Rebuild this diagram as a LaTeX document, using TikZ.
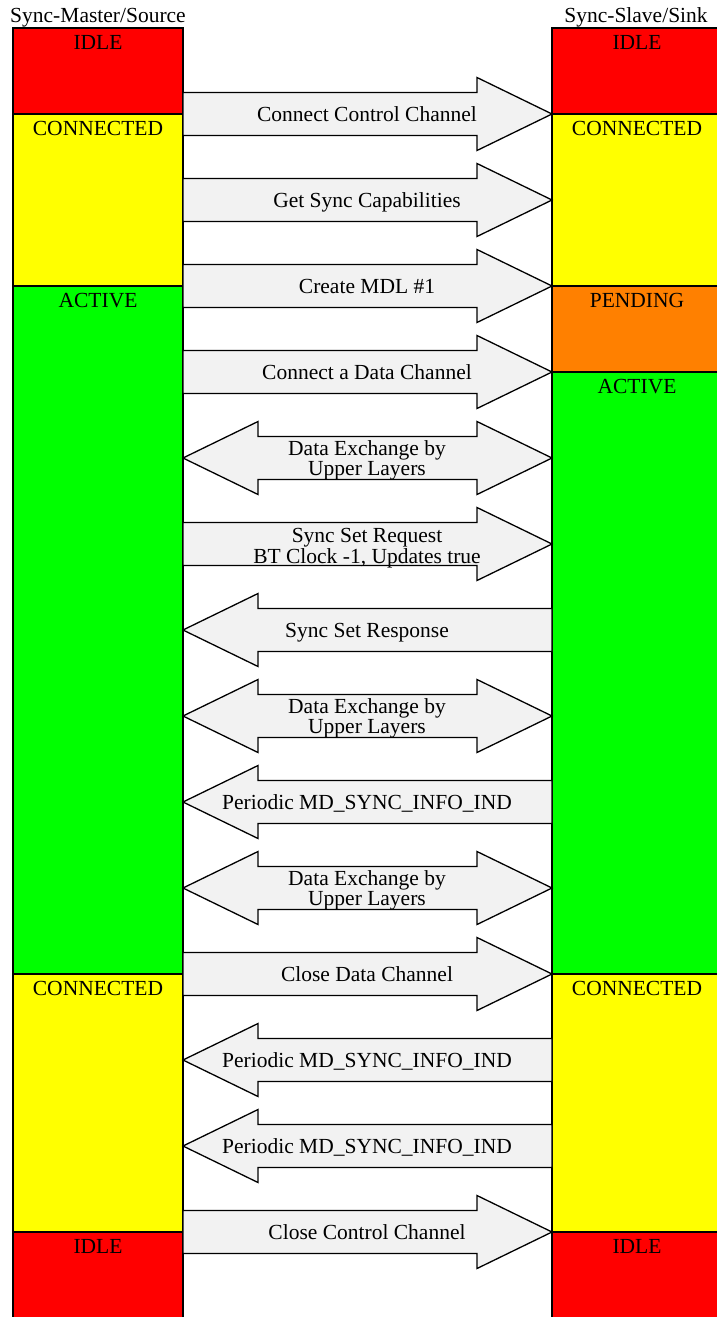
\documentclass[tikz,border=0pt]{standalone}
\usepackage{fontspec}
\setmainfont{Liberation Serif}
\begin{document}
\definecolor{idlered}{HTML}{FF0000}
\definecolor{connyellow}{HTML}{FFFF00}
\definecolor{activegreen}{HTML}{00FF00}
\definecolor{pendorange}{HTML}{FF8000}
\definecolor{arrowgray}{HTML}{F2F2F2}
\tikzset{
  statebox/.style={draw=black, line width=1.3pt, inner sep=0pt, outer sep=0pt,
    minimum width=170pt, anchor=north west},
  statelabel/.style={anchor=base, inner sep=0pt, font=\fontsize{21.5}{19}\selectfont},
  blockarrow/.style={draw=black, fill=arrowgray, line width=1.3pt, line join=miter},
  arrowtext/.style={anchor=base, inner sep=0pt, align=center,
    font=\fontsize{21.5}{18.5}\selectfont},
  header/.style={anchor=base, inner sep=0pt, font=\fontsize{21.5}{19}\selectfont}
}
% state block: name, left x, top y, height, colour, label
\newcommand\statebox[6]{%
  \node[statebox, fill=#5, minimum height=#4pt] (#1) at (#2,#3) {};
  \node[statelabel] (#1-label) at ([yshift=-21pt]#1.north) {#6};}
% block arrows between the two lifelines:
% [baseline offset of the last text line], name, centre y, text
\newcommand\arrowR[4][7]{%
  \draw[blockarrow] (183,#3-21.5) -- (477,#3-21.5) -- (477,#3-36.5) -- (552,#3)
    -- (477,#3+36.5) -- (477,#3+21.5) -- (183,#3+21.5) -- cycle;
  \node[arrowtext] (#2) at (367,#3+#1) {#4};}
\newcommand\arrowL[4][7]{%
  \draw[blockarrow] (552,#3-21.5) -- (258,#3-21.5) -- (258,#3-36.5) -- (183,#3)
    -- (258,#3+36.5) -- (258,#3+21.5) -- (552,#3+21.5) -- cycle;
  \node[arrowtext] (#2) at (367,#3+#1) {#4};}
\newcommand\arrowLR[4][17]{%
  \draw[blockarrow] (183,#3) -- (258,#3-36.5) -- (258,#3-21.5) -- (477,#3-21.5)
    -- (477,#3-36.5) -- (552,#3) -- (477,#3+36.5) -- (477,#3+21.5)
    -- (258,#3+21.5) -- (258,#3+36.5) -- cycle;
  \node[arrowtext] (#2) at (367,#3+#1) {#4};}
\begin{tikzpicture}[x=1pt, y=-1pt]
\useasboundingbox (0,0) rectangle (717,1317);
\clip (0,0) rectangle (717,1317);

% headers
\node[header] (master) at (98,23) {Sync-Master/Source};
\node[header] (slave) at (636,23) {Sync-Slave/Sink};

% source lifeline
\statebox{lidle}{13}{28}{86}{idlered}{IDLE}
\statebox{lconn}{13}{114}{172}{connyellow}{CONNECTED}
\statebox{lact}{13}{286}{688}{activegreen}{ACTIVE}
\statebox{lconnb}{13}{974}{258}{connyellow}{CONNECTED}
\statebox{lidleb}{13}{1232}{100}{idlered}{IDLE}

% sink lifeline
\statebox{ridle}{552}{28}{86}{idlered}{IDLE}
\statebox{rconn}{552}{114}{172}{connyellow}{CONNECTED}
\statebox{rpend}{552}{286}{86}{pendorange}{PENDING}
\statebox{ract}{552}{372}{602}{activegreen}{ACTIVE}
\statebox{rconnb}{552}{974}{258}{connyellow}{CONNECTED}
\statebox{ridleb}{552}{1232}{100}{idlered}{IDLE}

% message sequence
\arrowR{m1}{114}{Connect Control Channel}
\arrowR{m2}{200}{Get Sync Capabilities}
\arrowR{m3}{286}{Create MDL \#1}
\arrowR{m4}{372}{Connect a Data Channel}
\arrowLR{m5}{458}{Data Exchange by\\Upper Layers}
\arrowR[19]{m6}{544}{Sync Set Request\\BT Clock -1, Updates true}
\arrowL{m7}{630}{Sync Set Response}
\arrowLR{m8}{716}{Data Exchange by\\Upper Layers}
\arrowL{m9}{802}{Periodic MD\_SYNC\_INFO\_IND}
\arrowLR{m10}{888}{Data Exchange by\\Upper Layers}
\arrowR{m11}{974}{Close Data Channel}
\arrowL{m12}{1060}{Periodic MD\_SYNC\_INFO\_IND}
\arrowL{m13}{1146}{Periodic MD\_SYNC\_INFO\_IND}
\arrowR{m14}{1232}{Close Control Channel}
\end{tikzpicture}
\end{document}
